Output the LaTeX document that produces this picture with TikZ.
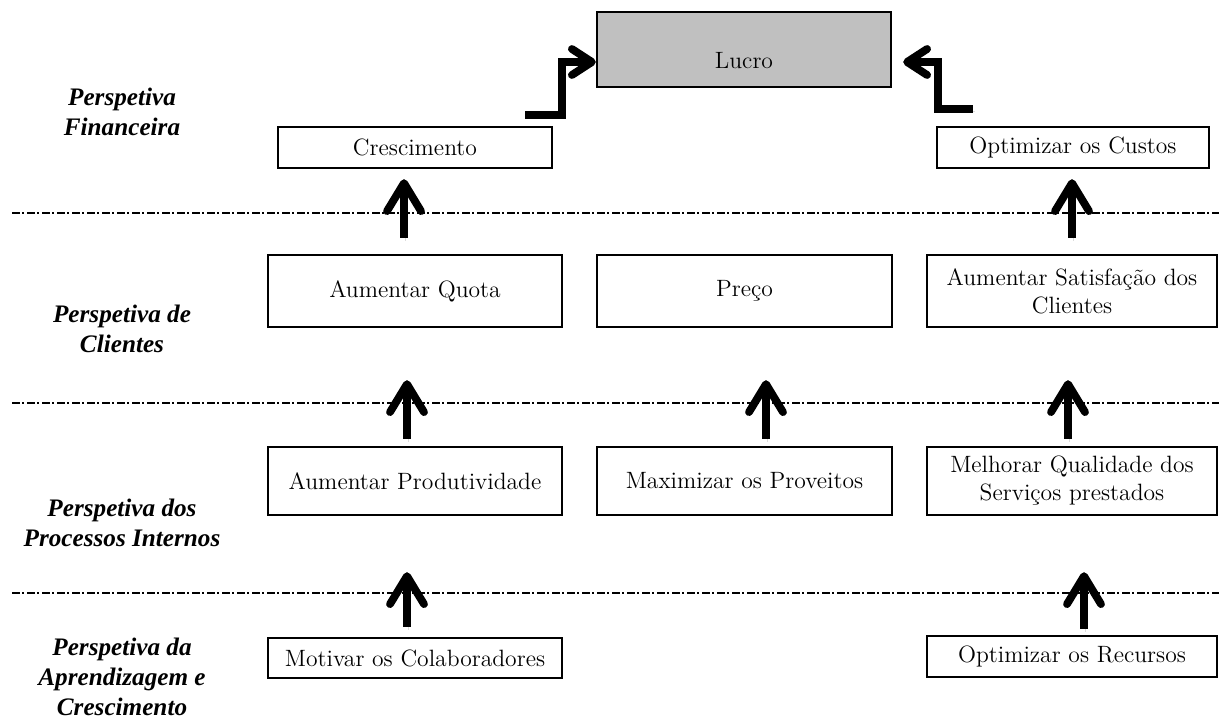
\documentclass[tikz,border=0pt]{standalone}
\usepackage{fontspec}
\newfontfamily\perspfont{Liberation Serif}
\usetikzlibrary{arrows.meta,calc}
\definecolor{lucrogray}{HTML}{C0C0C0}
\begin{document}
\begin{tikzpicture}[x=0.5pt,y=-0.5pt,
  box/.style={draw=black, line width=1.2pt, inner sep=0pt, align=center,
    font=\fontsize{11.8}{14}\selectfont},
  persp/.style={align=center, inner sep=0pt,
    font=\perspfont\fontsize{12.6}{15}\selectfont\bfseries\itshape},
  arrowbase/.style={line width=3.9pt, line cap=butt, miter limit=10,
    preaction={draw=black!45, draw opacity=0.3,
      transform canvas={shift={(0.8pt,-1.4pt)}}}},
  bigarrow/.style={arrowbase,
    -{Straight Barb[length=14pt,width=17pt,line join=round,line cap=round]}},
  bentarrow/.style={arrowbase,
    -{Straight Barb[length=10pt,width=13pt,line join=round,line cap=round]}},
  divider/.style={line width=1pt, dash pattern=on 4pt off 1.2pt on 1pt off 1.3pt}]
\useasboundingbox (0,0) rectangle (1219,722);

% perspective titles
\node[persp] (pfin) at (122,112) {Perspetiva\\Financeira};
\node[persp] (pcli) at (122,329) {Perspetiva de\\Clientes};
\node[persp] (ppro) at (122,523) {Perspetiva dos\\Processos Internos};
\node[persp] (papr) at (122,677) {Perspetiva da\\Aprendizagem e\\Crescimento};

% separators between the perspectives
\draw[divider] (12,213) -- (1219,213);
\draw[divider] (12,403) -- (1219,403);
\draw[divider] (12,593) -- (1219,593);

% objectives
\node[box, fill=lucrogray, minimum width=147pt, minimum height=37.5pt] (lucro) at (744,49.5)
  {\raisebox{-5.5pt}[\height][\depth]{Lucro}};
\node[box, minimum width=137pt, minimum height=20.5pt] (cresc) at (415,147.5) {Crescimento};
\node[box, minimum width=136pt, minimum height=20.5pt] (custos) at (1073,147.5) {Optimizar os Custos};

\node[box, minimum width=147pt, minimum height=36pt] (quota) at (415,291) {Aumentar Quota};
\node[box, minimum width=147.5pt, minimum height=36pt] (preco) at (744.5,291) {Preço};
\node[box, minimum width=145pt, minimum height=36pt] (satisf) at (1072,291) {Aumentar Satisfação dos\\Clientes};

\node[box, minimum width=147pt, minimum height=34pt] (produt) at (415,481) {Aumentar Produtividade};
\node[box, minimum width=147.5pt, minimum height=34pt] (maxim) at (744.5,481) {Maximizar os Proveitos};
\node[box, minimum width=145pt, minimum height=34pt] (melhor) at (1072,481) {Melhorar Qualidade dos\\Serviços prestados};

\node[box, minimum width=147pt, minimum height=20pt] (motiv) at (415,658) {Motivar os Colaboradores};
\node[box, minimum width=145pt, minimum height=20.5pt] (recur) at (1072,656.5) {Optimizar os Recursos};

% stepped arrows into the profit box
\coordinate (lstart) at (525,115);
\coordinate (rstart) at (973,109);
\draw[bentarrow] (lstart) -| ($(lucro.west)+(-34,12.5)$) -- ($(lucro.west)+(0,12.5)$);
\draw[bentarrow] (rstart) -| ($(lucro.east)+(46,12.5)$) -- ($(lucro.east)+(11,12.5)$);

% customers -> financial
\draw[bigarrow] ($(quota.north)+(-11,-16)$) -- ($(cresc.south)+(-11,10)$);
\draw[bigarrow] ($(satisf.north)+(0,-16)$) -- ($(custos.south)+(-1,10)$);

% internal processes -> customers
\draw[bigarrow] ($(produt.north)+(-8,-7)$) -- ($(quota.south)+(-8,52)$);
\draw[bigarrow] ($(maxim.north)+(21.5,-7)$) -- ($(preco.south)+(21.5,52)$);
\draw[bigarrow] ($(melhor.north)+(-4,-7)$) -- ($(satisf.south)+(-4,52)$);

% learning and growth -> internal processes
\draw[bigarrow] ($(motiv.north)+(-8,-10)$) -- ($(produt.south)+(-8,56)$);
\draw[bigarrow] ($(recur.north)+(12,-6)$) -- ($(melhor.south)+(12,56)$);
\end{tikzpicture}
\end{document}
